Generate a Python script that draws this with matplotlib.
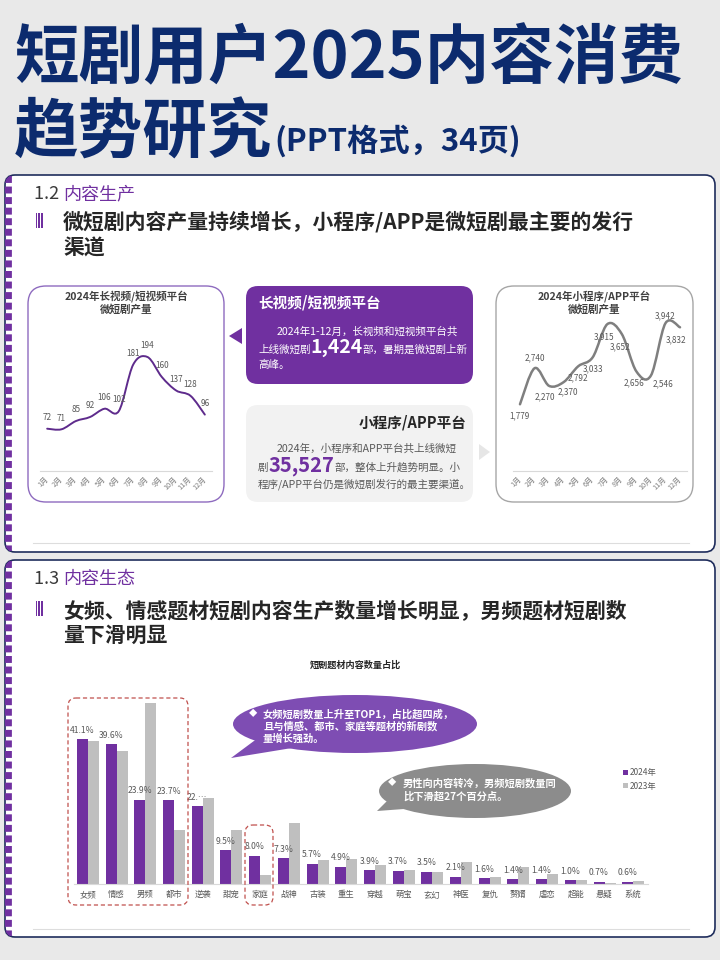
import numpy as np
import matplotlib
matplotlib.use("Agg")
import matplotlib.pyplot as plt
from matplotlib.patches import FancyBboxPatch, Ellipse, Polygon, Rectangle, PathPatch
from matplotlib.path import Path

plt.rcParams['font.family'] = ['Noto Sans CJK SC', 'DejaVu Sans']
plt.rcParams['lines.scale_dashes'] = False

W, H = 720, 960
NAVY = "#0C2B6E"
PURPLE = "#7030A0"
GRAY_BAR = "#BFBFBF"
TXT = "#262626"
MUTED = "#595959"

# ── data ─────────────────────────────────────
months = ["1月", "2月", "3月", "4月", "5月", "6月",
          "7月", "8月", "9月", "10月", "11月", "12月"]
video_counts = [72, 71, 85, 92, 106, 102, 181, 194, 160, 137, 128, 96]
app_counts = [1779, 2740, 2270, 2370, 2792, 3033, 3915, 3652, 2656, 2546, 3942, 3832]

genres = ["女频", "情感", "男频", "都市", "逆袭", "甜宠", "家庭", "战神", "古装", "重生",
          "穿越", "萌宝", "玄幻", "神医", "复仇", "赘婿", "虐恋", "超能", "悬疑", "系统"]
share_2024 = [41.1, 39.6, 23.9, 23.7, 22.1, 9.5, 8.0, 7.3, 5.7, 4.9,
              3.9, 3.7, 3.5, 2.1, 1.6, 1.4, 1.4, 1.0, 0.7, 0.6]
share_2023 = [40.6, 37.7, 51.4, 15.3, 24.3, 15.3, 2.5, 17.2, 6.8, 7.1,
              5.4, 4.0, 3.5, 6.2, 2.0, 4.8, 2.9, 1.2, 0.4, 0.8]
label_override = {4: "22.…"}   # truncated label in the source

# label offsets (points) for the app chart
app_offsets = [(0, -8), (0, 7.5), (-3, -8), (3, -7), (0, -8), (0, -8),
               (-2, -9), (-1, -9), (-2, -8), (9, -6), (0, 5), (-3, -9)]

fig = plt.figure(figsize=(W / 100, H / 100), dpi=100, facecolor="#E9E9E9")
bg = fig.add_axes([0, 0, 1, 1])
bg.set_xlim(0, W)
bg.set_ylim(H, 0)
bg.axis('off')
renderer = fig.canvas.get_renderer()


def px_axes(x0, y0, x1, y1):
    a = fig.add_axes([x0 / W, 1 - y1 / H, (x1 - x0) / W, (y1 - y0) / H])
    a.set_facecolor('none')
    return a


def runs(ax, x, y, parts, **common):
    for s, kw in parts:
        t = ax.text(x, y, s, va='baseline', ha='left', **{**common, **kw})
        x += t.get_window_extent(renderer).width
    return x


def smooth_path(xs, ys):
    p = np.column_stack([xs, ys]).astype(float)
    ext = np.vstack([p[0], p, p[-1]])
    verts, codes = [p[0]], [Path.MOVETO]
    for i in range(len(p) - 1):
        c1 = ext[i + 1] + (ext[i + 2] - ext[i]) / 6
        c2 = ext[i + 2] - (ext[i + 3] - ext[i + 1]) / 6
        verts += [c1, c2, p[i + 1]]
        codes += [Path.CURVE4] * 3
    return Path(verts, codes)


# ── title ────────────────────────────────────
bg.text(14, 78, "短剧用户2025内容消费", fontsize=46.5, fontweight='heavy',
        color=NAVY, va='baseline')
x = runs(bg, 14, 153, [("趋势研究", dict(fontsize=46.5))], fontweight='heavy', color=NAVY)
bg.text(x + 2, 151, "(PPT格式，34页)", fontsize=22.5, fontweight='heavy',
        fontstyle='italic', color=NAVY, va='baseline')

# ── cards ────────────────────────────────────
for (y0, y1) in [(175, 552), (560, 937)]:
    card = FancyBboxPatch((5, y0), 710, y1 - y0, boxstyle="round,pad=0,rounding_size=10",
                          fc='white', ec='#1F2D5C', lw=1.2, zorder=1)
    bg.add_patch(card)
    ln, = bg.plot([8, 8], [y0 + 1, y1 - 1], color=PURPLE, lw=5.6,
                  dashes=(5.0, 2.6), solid_capstyle='butt', zorder=2)
    ln.set_clip_path(card)


def section(y_num, y_lines, num, name, lines):
    runs(bg, 34, y_num, [(num + " ", dict(color='#3A3A3A')), (name, dict(color=PURPLE))],
         fontsize=13)
    yc = y_lines[0] - 8
    for k in range(3):
        bg.add_patch(Rectangle((35.5 + k * 2.8, yc - 8), 1.4, 15, fc=PURPLE, ec='none', zorder=3))
    for yb, s in zip(y_lines, lines):
        bg.text(63, yb, s, fontsize=15, fontweight='bold', color=TXT, va='baseline')


section(199, [229, 255], "1.2", "内容生产",
        ["微短剧内容产量持续增长，小程序/APP是微短剧最主要的发行", "渠道"])
section(584, [617, 642], "1.3", "内容生态",
        ["女频、情感题材短剧内容生产数量增长明显，男频题材短剧数", "量下滑明显"])

bg.plot([33, 689], [543, 543], color='#DDDDDD', lw=0.8, zorder=2)
bg.plot([33, 689], [929, 929], color='#DDDDDD', lw=0.8, zorder=2)

# ── section 1.2 boxes ────────────────────────
bg.add_patch(FancyBboxPatch((28, 286), 196, 216, boxstyle="round,pad=0,rounding_size=18",
                            fc='white', ec='#8E6BBF', lw=1.0, zorder=2))
bg.add_patch(FancyBboxPatch((496, 286), 197, 216, boxstyle="round,pad=0,rounding_size=18",
                            fc='white', ec='#A6A6A6', lw=1.0, zorder=2))
for cx, t1 in [(126, "2024年长视频/短视频平台"), (594, "2024年小程序/APP平台")]:
    bg.text(cx, 296, t1, fontsize=7.6, fontweight='bold', color='#404040', ha='center', va='center', zorder=3)
    bg.text(cx, 310, "微短剧产量", fontsize=7.6, fontweight='bold', color='#404040', ha='center', va='center', zorder=3)

bg.add_patch(FancyBboxPatch((246, 286), 227, 98, boxstyle="round,pad=0,rounding_size=12",
                            fc=PURPLE, ec='none', zorder=2))
bg.add_patch(Polygon([(229, 336), (242, 328), (242, 344)], fc=PURPLE, ec='none', zorder=2))
bg.add_patch(FancyBboxPatch((246, 405), 227, 97, boxstyle="round,pad=0,rounding_size=12",
                            fc='#F2F2F2', ec='none', zorder=2))
bg.add_patch(Polygon([(490, 452), (479, 444), (479, 460)], fc='#E6E6E6', ec='none', zorder=2))

bg.text(258, 308, "长视频/短视频平台", fontsize=10.5, fontweight='bold', color='white', va='baseline', zorder=3)
bg.text(277, 335, "2024年1-12月，长视频和短视频平台共", fontsize=7.6, color='white', va='baseline', zorder=3)
runs(bg, 258, 353, [("上线微短剧", {}), ("1,424", dict(fontsize=14, fontweight='bold')),
                    ("部，暑期是微短剧上新", {})], fontsize=7.6, color='white', zorder=3)
bg.text(258, 368, "高峰。", fontsize=7.6, color='white', va='baseline', zorder=3)

bg.text(467, 428, "小程序/APP平台", fontsize=10.5, fontweight='bold', color=TXT, ha='right',
        va='baseline', zorder=3)
bg.text(277, 452, "2024年，小程序和APP平台共上线微短", fontsize=7.6, color=MUTED, va='baseline', zorder=3)
runs(bg, 258, 471, [("剧", {}), ("35,527", dict(fontsize=14.5, fontweight='bold', color=PURPLE)),
                    ("部，整体上升趋势明显。小", {})], fontsize=7.6, color=MUTED, zorder=3)
bg.text(258, 487, "程序/APP平台仍是微短剧发行的最主要渠道。", fontsize=7.6, color=MUTED, va='baseline', zorder=3)


# ── line charts ──────────────────────────────
def line_chart(box, values, color, lw, top, offsets):
    a = px_axes(*box)
    xs = np.arange(1, len(values) + 1)
    a.add_patch(PathPatch(smooth_path(xs, values), fc='none', ec=color, lw=lw, capstyle='round'))
    a.set_xlim(0.5, len(values) + 0.5)
    a.set_ylim(0, top)
    for xi, v, off in zip(xs, values, offsets):
        a.annotate(f"{v:,}", (xi, v), xytext=off, textcoords='offset points',
                   ha='center', va='center', fontsize=5.9, color=MUTED)
    a.set_xticks(xs)
    a.set_xticklabels(months, rotation=45, ha='right', va='center', rotation_mode='anchor',
                      fontsize=5.2, color='#7F7F7F')
    a.tick_params(length=0, pad=5)
    a.set_yticks([])
    for s in ['left', 'right', 'top']:
        a.spines[s].set_visible(False)
    a.spines['bottom'].set_color('#D9D9D9')
    a.spines['bottom'].set_linewidth(0.8)
    return a


line_chart((40, 330, 212, 471), video_counts, '#5E2B8C', 1.4, 240, [(0, 8)] * 12)
line_chart((512.7, 306, 687.3, 471), app_counts, '#7F7F7F', 1.8, 4400, app_offsets)

# ── bar chart ────────────────────────────────
bg.text(355, 665, "短剧题材内容数量占比", fontsize=6.6, fontweight='bold', color=TXT,
        ha='center', va='center', zorder=3)

axb = px_axes(73.6, 690, 647.6, 884)
idx = np.arange(len(genres))
bw = 0.383
axb.bar(idx - bw / 2, share_2024, bw, color=PURPLE, label="2024年")
axb.bar(idx + bw / 2, share_2023, bw, color=GRAY_BAR, label="2023年")
for i, v in enumerate(share_2024):
    axb.annotate(label_override.get(i, f"{v:.1f}%"), (i - bw / 2, v), xytext=(0, 6.5),
                 textcoords='offset points', ha='center', va='center', fontsize=6.2, color=MUTED)
axb.set_xlim(-0.5, len(genres) - 0.5)
axb.set_ylim(0, 55)
axb.set_xticks(idx)
axb.set_xticklabels(genres, fontsize=6, color=MUTED)
axb.tick_params(length=0, pad=4.5)
axb.set_yticks([])
for s in ['left', 'right', 'top']:
    axb.spines[s].set_visible(False)
axb.spines['bottom'].set_color('#D9D9D9')
axb.spines['bottom'].set_linewidth(0.8)

# ── overlay: callouts, highlight boxes, legend ──
top = fig.add_axes([0, 0, 1, 1])
top.set_xlim(0, W)
top.set_ylim(H, 0)
top.axis('off')
top.set_facecolor('none')

for (x0, y0, w, h) in [(68, 698, 120, 207), (245, 825, 28, 80)]:
    top.add_patch(FancyBboxPatch((x0, y0), w, h, boxstyle="round,pad=0,rounding_size=8",
                                 fc='none', ec='#C0504D', lw=0.9, ls=(0, (3, 2))))

BUB_P = "#7E4DB3"
top.add_patch(Polygon([(231, 758), (262, 735), (292, 748)], fc=BUB_P, ec='none'))
top.add_patch(Ellipse((355, 724), 244, 58, fc=BUB_P, ec='none'))
top.text(253, 714, "◆", fontsize=6, color='white', ha='center', va='center')
for i, s in enumerate(["女频短剧数量上升至TOP1，占比超四成，", "且与情感、都市、家庭等题材的新剧数", "量增长强劲。"]):
    top.text(263, 714 + i * 12.5, s, fontsize=7.4, fontweight='bold', color='white', va='center')

BUB_G = "#8C8C8C"
top.add_patch(Polygon([(377, 811), (392, 796), (404, 809)], fc=BUB_G, ec='none'))
top.add_patch(Ellipse((475, 791), 192, 54, fc=BUB_G, ec='none'))
top.text(392, 783, "◆", fontsize=6, color='white', ha='center', va='center')
for i, s in enumerate(["男性向内容转冷，男频短剧数量同", "比下滑超27个百分点。"]):
    top.text(403, 783 + i * 14, s, fontsize=7.4, fontweight='bold', color='white', va='center')

for i, (c, s) in enumerate([(PURPLE, "2024年"), (GRAY_BAR, "2023年")]):
    top.add_patch(Rectangle((623, 770 + i * 13), 5, 5, fc=c, ec='none'))
    top.text(630, 773 + i * 13, s, fontsize=6, color=MUTED, va='center')

fig.savefig("out.png", dpi=100, facecolor=fig.get_facecolor())
